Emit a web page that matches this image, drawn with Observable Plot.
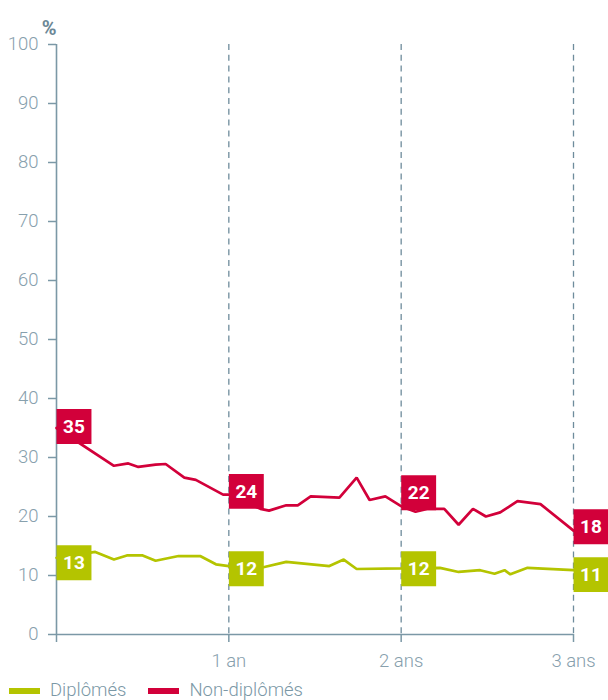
<!DOCTYPE html>
<html>
<head>
<meta charset="utf-8">
<script src="https://cdn.jsdelivr.net/npm/d3@7"></script>
<script src="https://cdn.jsdelivr.net/npm/@observablehq/plot@0.6"></script>
<style>
  html, body { margin: 0; padding: 0; background: #fff; }
  #chart { width: 608px; height: 700px; overflow: hidden; position: relative; font-family: Roboto, sans-serif; }
  #chart svg { display: block; }
  .legend { display: flex; align-items: center; margin-left: 9px; font-family: Roboto, sans-serif; font-weight: 300; font-size: 18.5px; color: #7b98a6; line-height: 20px; margin-top: 4px; }
  .legend .item { display: flex; align-items: center; margin-right: 22px; }
  .legend .sw { width: 31px; height: 6px; margin-right: 10px; margin-top: 2px; }
</style>
</head>
<body>
<div id="chart"></div>
<script>
// ---- data ----
const seriesNames = ["Diplômés", "Non-diplômés"];
const seriesColors = ["#b4c400", "#d2003a"];

// months since exit (x) and percentage (y)
const greenMonths = [0, 2.7, 4.0, 4.9, 6.0, 6.9, 8.5, 10.0, 11.1, 12, 14.4, 16.0, 19.0, 20.0, 20.9, 24.0, 26.7, 28.0, 29.5, 30.5, 31.2, 31.6, 32.8, 36];
const greenValues = [13, 14.0, 12.7, 13.4, 13.4, 12.5, 13.3, 13.3, 11.9, 11.6, 11.4, 12.3, 11.6, 12.7, 11.1, 11.2, 11.3, 10.6, 10.9, 10.3, 10.9, 10.2, 11.3, 10.9];

const redMonths = [0, 4.0, 5.0, 5.7, 6.9, 7.6, 8.9, 9.7, 11.6, 12, 14.2, 14.8, 16.0, 16.8, 17.7, 19.7, 20.9, 21.8, 22.9, 24.1, 25.0, 25.8, 27.0, 28.0, 29.0, 29.9, 30.9, 32.1, 33.7, 36];
const redValues = [35, 28.6, 29.0, 28.4, 28.8, 28.9, 26.6, 26.2, 23.7, 23.7, 21.3, 21.0, 21.9, 21.9, 23.4, 23.2, 26.6, 22.8, 23.4, 21.6, 20.8, 21.3, 21.3, 18.6, 21.3, 20.0, 20.7, 22.6, 22.1, 17.6];

const labelMonths = [0, 12, 24, 36];
const greenLabels = [13, 12, 12, 11];
const redLabels = [35, 24, 22, 18];

const yTicks = [0, 10, 20, 30, 40, 50, 60, 70, 80, 90, 100];
const xTicks = [0, 12, 24, 36];
const xTickLabels = ["", "1 an", "2 ans", "3 ans"];
const yUnit = "%";

// ---- build tables ----
const green = greenMonths.map((m, i) => ({m, v: greenValues[i]}));
const red = redMonths.map((m, i) => ({m, v: redValues[i]}));
const greenLab = labelMonths.map((m, i) => ({m, v: greenLabels[i]}));
const redLab = labelMonths.map((m, i) => ({m, v: redLabels[i]}));

const axisColor = "#7b98a6";
const textColor = "#87a0ad";
const BOX = 19.7; // r of square symbol (side ≈ 35px)

const boxes = (data, color, dy) => [
  Plot.dot(data, {x: "m", y: "v", symbol: "square", r: BOX, fill: color, stroke: "none", dx: 17.5, dy}),
  Plot.text(data, {x: "m", y: "v", text: d => String(d.v), fill: "white", fontWeight: 700, fontSize: 19, dx: 17.5, dy: dy + 0.5})
];

const plot = Plot.plot({
  width: 608,
  height: 676,
  marginLeft: 56,
  marginRight: 35,
  marginTop: 44,
  marginBottom: 42,
  style: {fontFamily: "Roboto, sans-serif", background: "white"},
  x: {domain: [0, 36]},
  y: {domain: [0, 100]},
  marks: [
    Plot.ruleX([12, 24, 36], {stroke: "#6e8c9c", strokeWidth: 1.3, strokeDasharray: "6,4.8"}),
    Plot.axisY({ticks: yTicks, tickSize: 8, tickPadding: 10, stroke: axisColor, strokeWidth: 1.5, fill: textColor, fontSize: 18.5, fontWeight: 300, label: null}),
    Plot.axisX({ticks: xTicks, tickSize: 8, tickPadding: 11, stroke: axisColor, strokeWidth: 1.5, fill: textColor, fontSize: 18.5, fontWeight: 300, tickFormat: (d) => xTickLabels[xTicks.indexOf(d)], label: null}),
    Plot.ruleY([0], {stroke: axisColor, strokeWidth: 1.6}),
    Plot.ruleX([0], {stroke: axisColor, strokeWidth: 1.6}),
    Plot.text([yUnit], {frameAnchor: "top-left", dx: 0, dy: -24, textAnchor: "end", fontWeight: 700, fontSize: 20, fill: "#6b8796"}),
    Plot.line(green, {x: "m", y: "v", stroke: seriesColors[0], strokeWidth: 2.7, strokeLinejoin: "miter"}),
    Plot.line(red, {x: "m", y: "v", stroke: seriesColors[1], strokeWidth: 2.7, strokeLinejoin: "miter"}),
    ...boxes(greenLab, seriesColors[0], 5),
    ...boxes(redLab.filter(d => d.m !== 24), seriesColors[1], -1.5),
    ...boxes(redLab.filter(d => d.m === 24), seriesColors[1], -12)
  ]
});

const chart = document.getElementById("chart");
chart.appendChild(plot);

const legend = document.createElement("div");
legend.className = "legend";
seriesNames.forEach((name, i) => {
  const item = document.createElement("div");
  item.className = "item";
  const sw = document.createElement("span");
  sw.className = "sw";
  sw.style.background = seriesColors[i];
  const lab = document.createElement("span");
  lab.textContent = name;
  item.appendChild(sw);
  item.appendChild(lab);
  legend.appendChild(item);
});
chart.appendChild(legend);
</script>
</body>
</html>
